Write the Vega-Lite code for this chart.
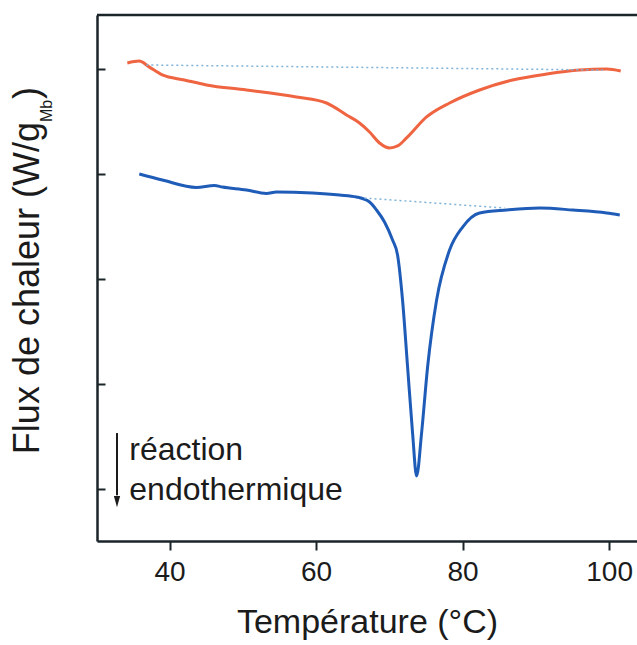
{
  "$schema": "https://vega.github.io/schema/vega-lite/v6.json",
  "width": 540,
  "height": 526,
  "autosize": {"type": "none"},
  "padding": {"left": 97, "top": 15, "right": 0, "bottom": 104},
  "config": {
    "font": "Liberation Sans",
    "view": {"stroke": null},
    "axis": {
      "grid": false,
      "domainColor": "#1b2428",
      "domainWidth": 2.5,
      "tickColor": "#1b2428",
      "tickWidth": 2,
      "labelColor": "#1b1b1b",
      "titleColor": "#1b1b1b",
      "labelFont": "Liberation Sans",
      "titleFont": "Liberation Sans",
      "titleFontWeight": "normal"
    }
  },
  "datasets": {
    "curves": [
      {"series": "orange", "t": 34.24, "flux": 4.057},
      {"series": "orange", "t": 35.87, "flux": 4.075},
      {"series": "orange", "t": 37.2, "flux": 4.02},
      {"series": "orange", "t": 39.02, "flux": 3.943},
      {"series": "orange", "t": 42.02, "flux": 3.895},
      {"series": "orange", "t": 45.03, "flux": 3.848},
      {"series": "orange", "t": 50.49, "flux": 3.8},
      {"series": "orange", "t": 57.32, "flux": 3.733},
      {"series": "orange", "t": 61.42, "flux": 3.676},
      {"series": "orange", "t": 64.15, "flux": 3.562},
      {"series": "orange", "t": 65.93, "flux": 3.486},
      {"series": "orange", "t": 67.3, "flux": 3.4},
      {"series": "orange", "t": 68.66, "flux": 3.295},
      {"series": "orange", "t": 70.03, "flux": 3.248},
      {"series": "orange", "t": 71.12, "flux": 3.267},
      {"series": "orange", "t": 72.35, "flux": 3.343},
      {"series": "orange", "t": 75.08, "flux": 3.543},
      {"series": "orange", "t": 78.22, "flux": 3.676},
      {"series": "orange", "t": 82.32, "flux": 3.8},
      {"series": "orange", "t": 86.83, "flux": 3.895},
      {"series": "orange", "t": 91.48, "flux": 3.952},
      {"series": "orange", "t": 95.98, "flux": 3.99},
      {"series": "orange", "t": 99.67, "flux": 4.0},
      {"series": "orange", "t": 101.58, "flux": 3.981},
      {"series": "bleu", "t": 35.87, "flux": 3.0},
      {"series": "bleu", "t": 39.02, "flux": 2.943},
      {"series": "bleu", "t": 43.66, "flux": 2.872},
      {"series": "bleu", "t": 46.12, "flux": 2.89},
      {"series": "bleu", "t": 47.21, "flux": 2.876},
      {"series": "bleu", "t": 50.49, "flux": 2.848},
      {"series": "bleu", "t": 53.22, "flux": 2.815},
      {"series": "bleu", "t": 54.59, "flux": 2.829},
      {"series": "bleu", "t": 59.51, "flux": 2.819},
      {"series": "bleu", "t": 63.2, "flux": 2.8},
      {"series": "bleu", "t": 65.52, "flux": 2.781},
      {"series": "bleu", "t": 67.3, "flux": 2.733},
      {"series": "bleu", "t": 68.25, "flux": 2.657},
      {"series": "bleu", "t": 69.34, "flux": 2.543},
      {"series": "bleu", "t": 70.44, "flux": 2.371},
      {"series": "bleu", "t": 71.12, "flux": 2.229},
      {"series": "bleu", "t": 71.8, "flux": 1.8},
      {"series": "bleu", "t": 72.49, "flux": 1.162},
      {"series": "bleu", "t": 73.17, "flux": 0.533},
      {"series": "bleu", "t": 73.72, "flux": 0.124},
      {"series": "bleu", "t": 74.4, "flux": 0.533},
      {"series": "bleu", "t": 75.22, "flux": 1.162},
      {"series": "bleu", "t": 76.45, "flux": 1.8},
      {"series": "bleu", "t": 78.22, "flux": 2.276},
      {"series": "bleu", "t": 80.0, "flux": 2.495},
      {"series": "bleu", "t": 82.32, "flux": 2.629},
      {"series": "bleu", "t": 86.01, "flux": 2.657},
      {"series": "bleu", "t": 90.52, "flux": 2.676},
      {"series": "bleu", "t": 95.03, "flux": 2.657},
      {"series": "bleu", "t": 99.67, "flux": 2.629},
      {"series": "bleu", "t": 101.45, "flux": 2.61}
    ],
    "baselines": [
      {"series": "orange", "t": 36.83, "flux": 4.038},
      {"series": "orange", "t": 99.13, "flux": 3.99},
      {"series": "bleu", "t": 66.61, "flux": 2.771},
      {"series": "bleu", "t": 85.74, "flux": 2.676}
    ],
    "frame": [
      {"t": 30.1, "t2": 103.8, "flux": 4.514}
    ],
    "arrow": [
      {"t": 32.83, "flux": 0.533, "flux2": -0.06}
    ],
    "arrowhead": [
      {"t": 32.83, "flux": -0.12}
    ],
    "notes": [
      {"t": 34.51, "flux": 0.276, "label": "réaction"},
      {"t": 34.51, "flux": -0.105, "label": "endothermique"}
    ],
    "ytitle": [
      {"t": 22.21, "flux": 3.495, "label": "Flux de chaleur (W/g"}
    ],
    "ysub": [
      {"t": 24.0, "flux": 3.495, "label": "Mb"}
    ],
    "yclose": [
      {"t": 22.21, "flux": 3.715, "label": ")"}
    ]
  },
  "encoding": {
    "x": {
      "field": "t", "type": "quantitative",
      "scale": {"domain": [30.1, 103.8], "nice": false, "zero": false},
      "axis": {
        "values": [40, 60, 80, 100],
        "title": "Température (°C)",
        "titleFontSize": 34,
        "titlePadding": 19,
        "labelFontSize": 28,
        "labelPadding": 8,
        "tickSize": 9,
        "labelFlush": false
      }
    },
    "y": {
      "field": "flux", "type": "quantitative",
      "scale": {"domain": [-0.495, 4.514], "nice": false, "zero": false},
      "axis": {
        "values": [0, 1, 2, 3, 4],
        "labels": false,
        "title": null,
        "tickSize": -8
      }
    }
  },
  "layer": [
    {
      "data": {"name": "curves"},
      "mark": {"type": "line", "strokeWidth": 3, "interpolate": "monotone"},
      "encoding": {
        "color": {
          "field": "series", "type": "nominal",
          "scale": {"domain": ["orange", "bleu"], "range": ["#ef6441", "#1f5cb8"]},
          "legend": null
        }
      }
    },
    {
      "data": {"name": "baselines"},
      "mark": {"type": "line", "strokeDash": [2, 3], "strokeWidth": 1.5, "color": "#7fb3d9"},
      "encoding": {
        "detail": {"field": "series"}
      }
    },
    {
      "data": {"name": "frame"},
      "mark": {"type": "rule", "strokeWidth": 2.5, "color": "#1b2428"},
      "encoding": {
        "x2": {"field": "t2"}
      }
    },
    {
      "data": {"name": "arrow"},
      "mark": {"type": "rule", "strokeWidth": 2, "color": "#1b1b1b"},
      "encoding": {
        "y2": {"field": "flux2"}
      }
    },
    {
      "data": {"name": "arrowhead"},
      "mark": {"type": "point", "shape": "M-0.55,-1L0.55,-1L0,1Z", "filled": true, "size": 130, "color": "#1b1b1b", "opacity": 1}
    },
    {
      "data": {"name": "notes"},
      "mark": {"type": "text", "align": "left", "baseline": "alphabetic", "fontSize": 32, "color": "#1b1b1b", "font": "Liberation Sans"},
      "encoding": {
        "text": {"field": "label"}
      }
    },
    {
      "data": {"name": "ytitle"},
      "mark": {"type": "text", "align": "right", "baseline": "alphabetic", "angle": 270, "fontSize": 36, "color": "#1b1b1b", "font": "Liberation Sans"},
      "encoding": {
        "text": {"field": "label"}
      }
    },
    {
      "data": {"name": "ysub"},
      "mark": {"type": "text", "align": "left", "baseline": "alphabetic", "angle": 270, "fontSize": 16, "color": "#1b1b1b", "font": "Liberation Sans"},
      "encoding": {
        "text": {"field": "label"}
      }
    },
    {
      "data": {"name": "yclose"},
      "mark": {"type": "text", "align": "left", "baseline": "alphabetic", "angle": 270, "fontSize": 36, "color": "#1b1b1b", "font": "Liberation Sans"},
      "encoding": {
        "text": {"field": "label"}
      }
    }
  ]
}
